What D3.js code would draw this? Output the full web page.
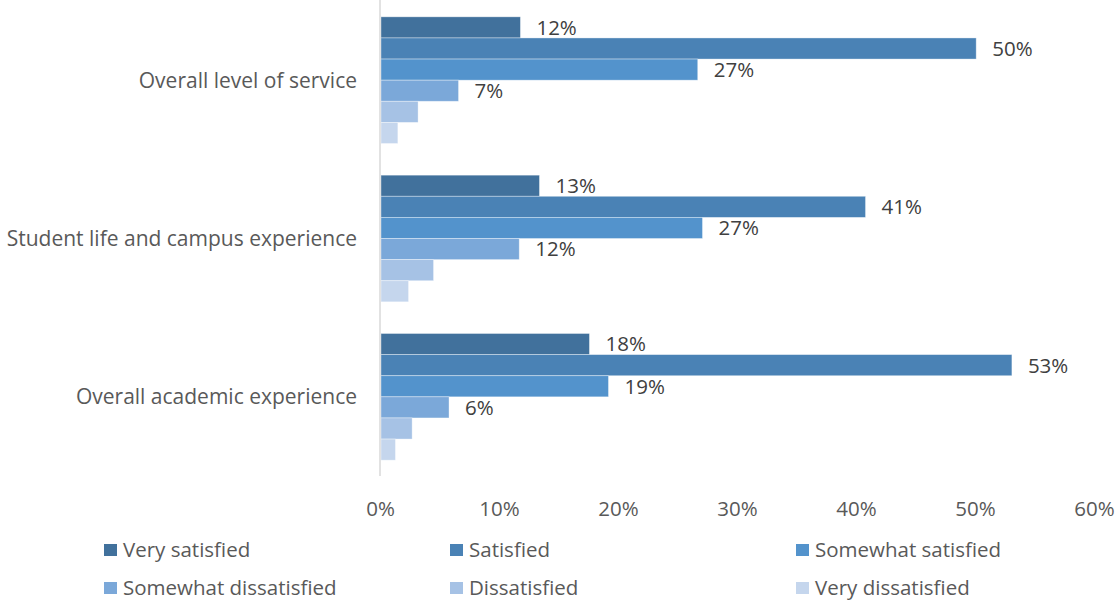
<!DOCTYPE html>
<html>
<head>
<meta charset="utf-8">
<script src="https://cdn.jsdelivr.net/npm/d3@7/dist/d3.min.js"></script>
<style>
  html, body { margin: 0; padding: 0; background: #fff; }
  svg { display: block; }
  text { font-family: "Open Sans", sans-serif; }
</style>
</head>
<body>
<svg id="chart" width="1118" height="602"></svg>
<script>
// Survey categories, listed top to bottom
const categories = [
  "Overall level of service",
  "Student life and campus experience",
  "Overall academic experience"
];

// Response levels (series), in drawing order within each group
const seriesNames = [
  "Very satisfied",
  "Satisfied",
  "Somewhat satisfied",
  "Somewhat dissatisfied",
  "Dissatisfied",
  "Very dissatisfied"
];

const seriesColors = ["#41719c", "#4a82b5", "#5393cc", "#7ba8d9", "#a6c2e5", "#c5d6ed"];

// Share of respondents (%) per series, one value per category
const verySatisfied        = [11.8, 13.4, 17.6];
const satisfied            = [50.1, 40.8, 53.1];
const somewhatSatisfied    = [26.7, 27.1, 19.2];
const somewhatDissatisfied = [6.6, 11.7, 5.8];
const dissatisfied         = [3.2, 4.5, 2.7];
const veryDissatisfied     = [1.5, 2.4, 1.3];

// Only the first four series carry value labels
const labelledSeries = [true, true, true, true, false, false];

const tickValues = [0, 10, 20, 30, 40, 50, 60];

const seriesValues = [verySatisfied, satisfied, somewhatSatisfied,
                      somewhatDissatisfied, dissatisfied, veryDissatisfied];

const FONT_SIZE = 20.5;

const svg = d3.select("#chart");

const plot = { left: 380, right: 1094, top: 1, bottom: 476 };

const x = d3.scaleLinear().domain([0, 60]).range([plot.left, plot.right]);
const y = d3.scaleBand().domain(categories).range([plot.top, plot.bottom])
  .paddingInner(0.2).paddingOuter(0.1);
const ySeries = d3.scaleBand().domain(seriesNames).range([0, y.bandwidth()]);

// Bars
const groups = svg.append("g").selectAll("g")
  .data(categories)
  .join("g")
  .attr("transform", d => `translate(0,${y(d)})`);

const cells = groups.selectAll("g.cell")
  .data((c, ci) => seriesNames.map((s, si) => ({ series: s, si, value: seriesValues[si][ci] })))
  .join("g").attr("class", "cell");

cells.append("rect")
  .attr("x", x(0) + 1)
  .attr("y", d => ySeries(d.series))
  .attr("width", d => x(d.value) - x(0) - 1)
  .attr("height", ySeries.bandwidth())
  .attr("fill", d => seriesColors[d.si])
  .attr("stroke", "rgba(255,255,255,0.45)")
  .attr("stroke-width", 0.8);

const fmt = v => d3.format(".0f")(v) + "%";

cells.filter(d => labelledSeries[d.si])
  .append("text")
  .attr("x", d => x(d.value) + 16)
  .attr("y", d => ySeries(d.series) + ySeries.bandwidth() / 2)
  .attr("dy", "0.36em")
  .attr("fill", "#404040")
  .attr("font-size", FONT_SIZE)
  .text(d => fmt(d.value));

// Category axis line
svg.append("line")
  .attr("x1", x(0)).attr("x2", x(0))
  .attr("y1", plot.top - 1).attr("y2", plot.bottom)
  .attr("stroke", "#d9d9d9").attr("stroke-width", 1.5);

// Category labels
svg.append("g").selectAll("text")
  .data(categories)
  .join("text")
  .attr("x", 357)
  .attr("y", d => y(d) + y.bandwidth() / 2)
  .attr("dy", "0.36em")
  .attr("text-anchor", "end")
  .attr("fill", "#595959")
  .attr("font-size", 21)
  .text(d => d);

// Value axis (labels only)
const xAxis = d3.axisBottom(x)
  .tickValues(tickValues)
  .tickSize(0)
  .tickPadding(0)
  .tickFormat(d => d + "%");

const gx = svg.append("g")
  .attr("transform", `translate(0,${plot.bottom + 25})`)
  .call(xAxis);
gx.select(".domain").remove();
gx.selectAll("text")
  .attr("fill", "#595959")
  .attr("font-size", FONT_SIZE)
  .attr("font-family", "'Open Sans', sans-serif");

// Legend: three columns, two rows
const legendCols = [104, 450, 796];
const legendRows = [550, 588];
const legend = svg.append("g").selectAll("g")
  .data(seriesNames)
  .join("g")
  .attr("transform", (d, i) => `translate(${legendCols[i % 3]},${legendRows[Math.floor(i / 3)]})`);

legend.append("rect")
  .attr("x", 0).attr("y", -6)
  .attr("width", 13).attr("height", 12)
  .attr("fill", (d, i) => seriesColors[i]);

legend.append("text")
  .attr("x", 19)
  .attr("y", 0)
  .attr("dy", "0.36em")
  .attr("fill", "#595959")
  .attr("font-size", FONT_SIZE)
  .text(d => d);
</script>
</body>
</html>
